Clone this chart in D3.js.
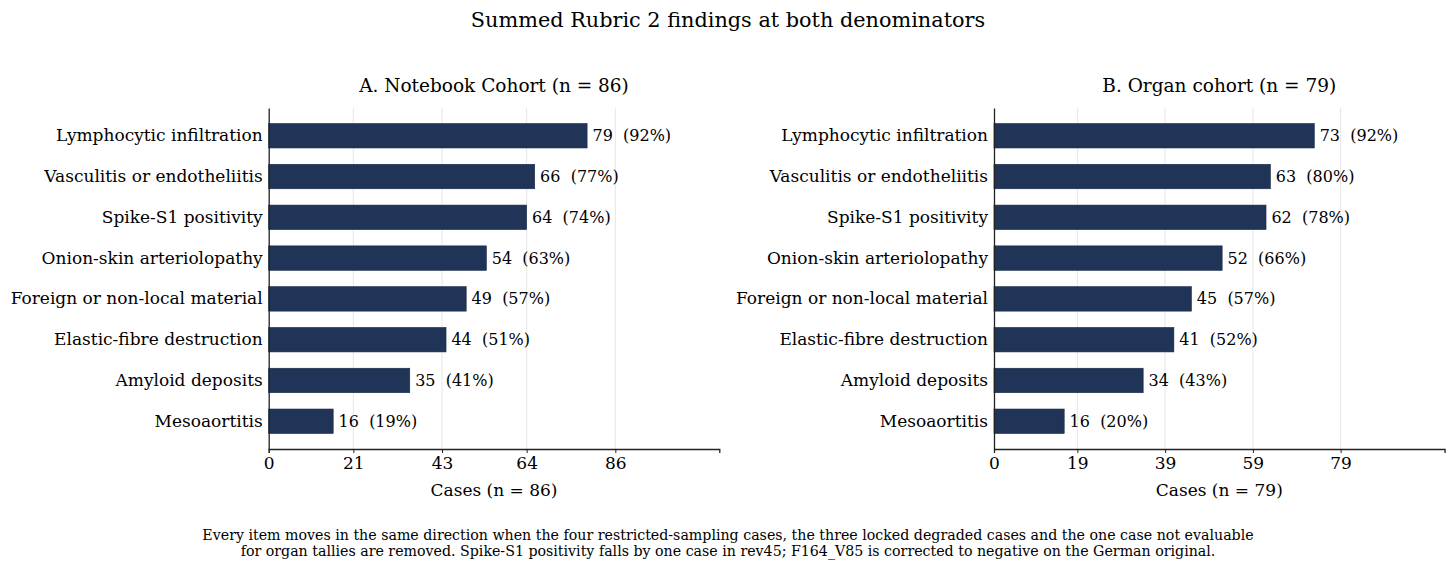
<!DOCTYPE html>
<html>
<head>
<meta charset="utf-8">
<script src="https://cdn.jsdelivr.net/npm/d3@7"></script>
<style>
  body { margin: 0; background: #fff; }
  svg text { font-family: "DejaVu Serif", serif; fill: #000; }
</style>
</head>
<body>
<div id="chart"></div>
<script>
// data
const categories = [
    "Lymphocytic infiltration",
    "Vasculitis or endotheliitis",
    "Spike-S1 positivity",
    "Onion-skin arteriolopathy",
    "Foreign or non-local material",
    "Elastic-fibre destruction",
    "Amyloid deposits",
    "Mesoaortitis"
];
const notebookCounts = [79, 66, 64, 54, 49, 44, 35, 16];
const organCounts = [73, 63, 62, 52, 45, 41, 34, 16];
const notebookN = 86;
const organN = 79;
const notebookTicks = [0, 21, 43, 64, 86];
const organTicks = [0, 19, 39, 59, 79];

const titleText = "Summed Rubric 2 findings at both denominators";
const footLines = [
    "Every item moves in the same direction when the four restricted-sampling cases, the three locked degraded cases and the one case not evaluable",
    "for organ tallies are removed. Spike-S1 positivity falls by one case in rev45; F164_V85 is corrected to negative on the German original."
];

const W = 1456, H = 570;
const barColor = "#203457";

let svg = d3.select("#chart").append("svg")
    .attr("width", W)
    .attr("height", H);

// main title
svg.append("text")
    .attr("x", W / 2)
    .attr("y", 27)
    .attr("text-anchor", "middle")
    .style("font-size", "20.8px")
    .text(titleText);

// footnote
svg.selectAll(".foot")
    .data(footLines)
    .enter()
    .append("text")
    .attr("class", "foot")
    .attr("x", W / 2)
    .attr("y", (d, i) => 539.5 + i * 16.5)
    .attr("text-anchor", "middle")
    .style("font-size", "14.2px")
    .text(d => d);

function drawPanel(left, subtitle, counts, n, ticks) {
    let top = 108, bottom = 449, width = 450.6;

    let x = d3.scaleLinear()
        .domain([0, n * 1.3])
        .range([left, left + width]);

    let y = d3.scaleBand()
        .domain(categories)
        .range([top, bottom])
        .paddingInner(0.4)
        .paddingOuter(0.38);

    let g = svg.append("g");

    // grid lines
    g.selectAll(".grid")
        .data(ticks.filter(t => t > 0))
        .enter()
        .append("line")
        .attr("x1", d => x(d))
        .attr("x2", d => x(d))
        .attr("y1", top)
        .attr("y2", bottom)
        .attr("stroke", "#e6e6e6")
        .attr("stroke-width", 1);

    // bars
    g.selectAll(".bar")
        .data(counts)
        .enter()
        .append("rect")
        .attr("x", x(0))
        .attr("y", (d, i) => y(categories[i]))
        .attr("width", d => x(d) - x(0))
        .attr("height", y.bandwidth())
        .attr("fill", barColor)
        .attr("stroke", "#1a2a47")
        .attr("stroke-width", 0.6);

    // value labels
    g.selectAll(".val")
        .data(counts)
        .enter()
        .append("text")
        .attr("x", d => x(d + n * 1.3 * 0.012))
        .attr("y", (d, i) => y(categories[i]) + y.bandwidth() / 2)
        .attr("dy", "0.35em")
        .style("font-size", "16px")
        .style("white-space", "pre")
        .text(d => d + "  (" + Math.round(d / n * 100) + "%)");

    // x axis
    let xAxis = d3.axisBottom(x)
        .tickValues(ticks)
        .tickFormat(d3.format("d"))
        .tickSize(4)
        .tickPadding(4);
    let ax = g.append("g")
        .attr("transform", "translate(0," + bottom + ")")
        .call(xAxis);
    ax.select(".domain").attr("stroke", "#222").attr("stroke-width", 1.3);
    ax.selectAll(".tick line").attr("stroke", "#222");
    ax.selectAll(".tick text")
        .style("font-family", "DejaVu Serif, serif")
        .style("font-size", "17px")
        .attr("fill", "#000");

    // y axis
    let yAxis = d3.axisLeft(y).tickSize(0).tickPadding(6);
    let ay = g.append("g")
        .attr("transform", "translate(" + x(0) + ",0)")
        .call(yAxis);
    ay.select(".domain").attr("stroke", "#222").attr("stroke-width", 1.3);
    ay.selectAll(".tick text")
        .style("font-family", "DejaVu Serif, serif")
        .style("font-size", "17px")
        .attr("fill", "#000");

    // axis label
    g.append("text")
        .attr("x", left + width / 2 - 0)
        .attr("y", 496)
        .attr("text-anchor", "middle")
        .style("font-size", "17px")
        .text("Cases (n = " + n + ")");

    // panel title
    g.append("text")
        .attr("x", left + width / 2)
        .attr("y", 92)
        .attr("text-anchor", "middle")
        .style("font-size", "18.5px")
        .text(subtitle);
}

drawPanel(268.7, "A. Notebook Cohort (n = 86)", notebookCounts, notebookN, notebookTicks);
drawPanel(994, "B. Organ cohort (n = 79)", organCounts, organN, organTicks);
</script>
</body>
</html>
